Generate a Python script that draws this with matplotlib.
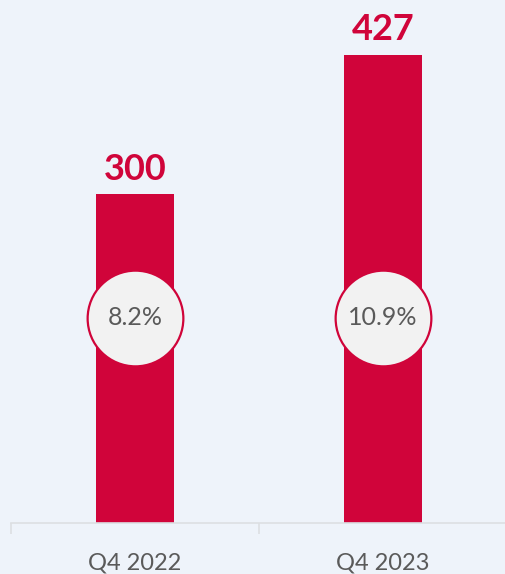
import matplotlib.pyplot as plt
import matplotlib.transforms as mtransforms

# datos
trimestres = ["Q4 2022", "Q4 2023"]
valores = [300, 427]
porcentajes = ["8.2%", "10.9%"]

rojo = "#D0043A"
fondo = "#EEF3FA"
gris_texto = "#5A5A5A"

plt.rcParams['font.family'] = ['Lato', 'DejaVu Sans']

fig = plt.figure(figsize=(5.05, 5.74), dpi=100, facecolor=fondo)
ax = fig.add_axes([11 / 505, 51 / 574, 496 / 505, 523 / 574])
ax.set_facecolor(fondo)

x = range(len(trimestres))
barras = ax.bar(x, valores, width=0.315, color=rojo, zorder=2)

# etiquetas de valor encima de cada barra
for xi, v in zip(x, valores):
    ax.annotate(str(v), (xi, v), xytext=(0, 6), textcoords="offset points",
                ha="center", va="bottom", fontsize=26, fontweight="bold", color=rojo)

# circulos con el porcentaje, todos a la misma altura
trans = mtransforms.blended_transform_factory(ax.transData, ax.transAxes)
for xi, p in zip(x, porcentajes):
    ax.scatter([xi], [0.392], s=4750, transform=trans, facecolor="#F2F2F2",
               edgecolor=rojo, linewidth=1.6, zorder=3, clip_on=False)
    ax.text(xi, 0.392, p, transform=trans, ha="center", va="center",
            fontsize=18, color=gris_texto, zorder=4)

ax.set_xlim(-0.5, 1.5)
ax.set_ylim(0, 477)

for lado in ["top", "right", "left"]:
    ax.spines[lado].set_visible(False)
ax.spines["bottom"].set_color("#DCDFE3")
ax.spines["bottom"].set_linewidth(1.2)
ax.set_yticks([])

ax.set_xticks([-0.5, 0.5, 1.5], minor=False)
ax.set_xticklabels([])
ax.tick_params(axis="x", which="major", length=8, color="#DCDFE3", width=1.2)
ax.set_xticks(list(x), minor=True)
ax.set_xticklabels(trimestres, minor=True)
ax.tick_params(axis="x", which="minor", length=0, pad=21, labelsize=17, labelcolor=gris_texto)

fig.savefig("out.png", dpi=100, facecolor=fondo)
